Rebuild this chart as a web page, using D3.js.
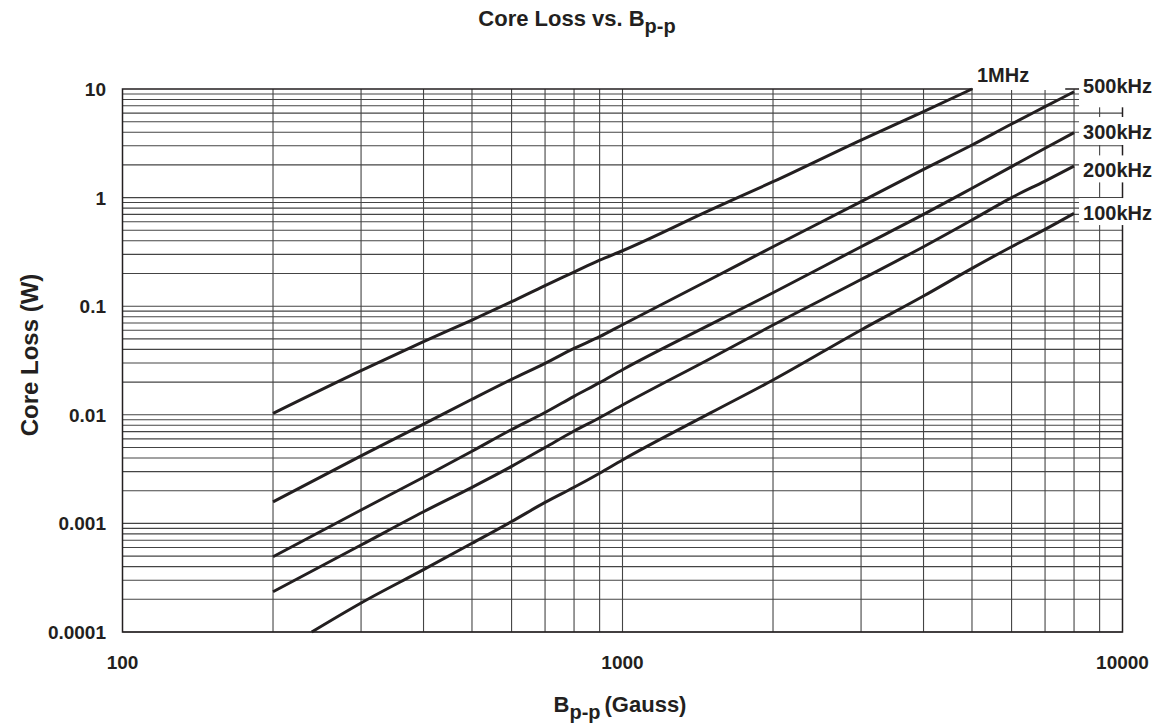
<!DOCTYPE html>
<html>
<head>
<meta charset="utf-8">
<script src="https://cdn.jsdelivr.net/npm/d3@7"></script>
<style>
  body { margin: 0; background: #fff; }
  text { font-family: "Liberation Sans", Arial, sans-serif; font-weight: bold; fill: #231f20; }
</style>
</head>
<body>
<div id="chart"></div>
<script>
// Data (Gauss -> Watts)
const seriesNames = ["1MHz", "500kHz", "300kHz", "200kHz", "100kHz"];

const gauss1M = [200, 300, 400, 500, 600, 700, 800, 900, 1000, 1500, 2000, 3000, 4000, 5000];
const loss1M = [0.0103, 0.0255, 0.0471, 0.0746, 0.110, 0.155, 0.206, 0.265, 0.324, 0.77, 1.40, 3.39, 6.18, 10];

const gaussStd = [200, 300, 400, 500, 600, 700, 800, 900, 1000, 1500, 2000, 3000, 4000, 5000, 6000, 7000, 8000];
const loss500k = [0.00158, 0.00418, 0.0082, 0.0139, 0.0212, 0.0298, 0.0409, 0.0524, 0.0675, 0.177, 0.353, 0.917, 1.82, 3.05, 4.76, 6.87, 9.44];
const loss300k = [0.000493, 0.00133, 0.00266, 0.00462, 0.00732, 0.0105, 0.0148, 0.0198, 0.026, 0.068, 0.133, 0.353, 0.70, 1.22, 1.93, 2.85, 3.96];
const loss200k = [0.000235, 0.000632, 0.00128, 0.00215, 0.00335, 0.0050, 0.0071, 0.0094, 0.0123, 0.033, 0.0671, 0.176, 0.353, 0.622, 1.0, 1.42, 1.95];

const gauss100k = [239, 300, 400, 500, 600, 700, 800, 900, 1000, 1500, 2000, 3000, 4000, 5000, 6000, 7000, 8000];
const loss100k = [0.0001, 0.000185, 0.000375, 0.000656, 0.00104, 0.00156, 0.00215, 0.0029, 0.00384, 0.0104, 0.0209, 0.0604, 0.124, 0.223, 0.353, 0.51, 0.716];

const xTickLabels = [100, 1000, 10000];
const yTickLabels = ["0.0001", "0.001", "0.01", "0.1", "1", "10"];

const width = 1158;
const height = 725;
const margin = {top: 89, right: 35.5, bottom: 93, left: 122.5};

const svg = d3.select("#chart")
    .append("svg")
    .attr("width", width)
    .attr("height", height);

const x = d3.scaleLog()
    .domain([100, 10000])
    .range([margin.left, width - margin.right]);

const y = d3.scaleLog()
    .domain([0.0001, 10])
    .range([height - margin.bottom, margin.top]);

// Grid lines: every 1..9 step of each decade
const xGrid = [];
[100, 1000].forEach(dec => { for (let k = 2; k <= 9; k++) xGrid.push(dec * k); });
xGrid.push(1000);
const yGrid = [];
[0.0001, 0.001, 0.01, 0.1, 1].forEach(dec => { for (let k = 1; k <= 9; k++) yGrid.push(dec * k); });

const grid = svg.append("g");
grid.selectAll(".hgrid")
    .data(yGrid)
    .enter().append("line")
    .attr("x1", x(100)).attr("x2", x(10000))
    .attr("y1", d => y(d)).attr("y2", d => y(d))
    .attr("stroke", "#444")
    .attr("stroke-width", 1.1);

grid.selectAll(".vgrid")
    .data(xGrid)
    .enter().append("line")
    .attr("x1", d => x(d)).attr("x2", d => x(d))
    .attr("y1", y(0.0001)).attr("y2", y(10))
    .attr("stroke", "#444")
    .attr("stroke-width", 1.1);

// Frame
svg.append("rect")
    .attr("x", x(100))
    .attr("y", y(10))
    .attr("width", x(10000) - x(100))
    .attr("height", y(0.0001) - y(10))
    .attr("fill", "none")
    .attr("stroke", "#231f20")
    .attr("stroke-width", 1.5);

// Curves
const series = [
    {name: seriesNames[0], xs: gauss1M, ys: loss1M},
    {name: seriesNames[1], xs: gaussStd, ys: loss500k},
    {name: seriesNames[2], xs: gaussStd, ys: loss300k},
    {name: seriesNames[3], xs: gaussStd, ys: loss200k},
    {name: seriesNames[4], xs: gauss100k, ys: loss100k}
];

const line = d3.line()
    .x(d => x(d[0]))
    .y(d => y(d[1]))
    .curve(d3.curveMonotoneX);

svg.selectAll(".curve")
    .data(series)
    .enter().append("path")
    .attr("class", "curve")
    .attr("d", s => line(s.xs.map((g, i) => [g, s.ys[i]])))
    .attr("fill", "none")
    .attr("stroke", "#231f20")
    .attr("stroke-width", 3);

// Series labels with white backing
const labelLayout = [
    {dx: 5, dy: -7, padR: 36, padB: 8},
    {dx: 9, dy: 1.6, padR: 12, padB: 14},
    {dx: 9, dy: 6.3, padR: 12, padB: 6},
    {dx: 9, dy: 11.3, padR: 12, padB: 5},
    {dx: 9, dy: 6.7, padR: 12, padB: 5}
];

series.forEach((s, i) => {
    const n = s.xs.length - 1;
    const lay = labelLayout[i];
    const g = svg.append("g");
    const t = g.append("text")
        .attr("x", x(s.xs[n]) + lay.dx)
        .attr("y", y(s.ys[n]) + lay.dy)
        .style("font-size", "20px")
        .text(s.name);
    const bb = t.node().getBBox();
    g.insert("rect", "text")
        .attr("x", bb.x - 4)
        .attr("y", bb.y - 4)
        .attr("width", bb.width + 4 + lay.padR)
        .attr("height", bb.height + lay.padB)
        .attr("fill", "#fff");
});

// Y tick labels
svg.selectAll(".ylab")
    .data(yTickLabels)
    .enter().append("text")
    .attr("x", 106)
    .attr("y", d => y(+d) + 7)
    .attr("text-anchor", "end")
    .style("font-size", "19px")
    .text(d => d);

// X tick labels
svg.selectAll(".xlab")
    .data(xTickLabels)
    .enter().append("text")
    .attr("x", d => x(d))
    .attr("y", 669)
    .attr("text-anchor", "middle")
    .style("font-size", "19px")
    .text(d => d);

// Title
const title = svg.append("text")
    .attr("x", 577)
    .attr("y", 26)
    .attr("text-anchor", "middle")
    .style("font-size", "22px");
title.append("tspan").text("Core Loss vs. B");
title.append("tspan").attr("dy", 7).style("font-size", "20px").text("p-p");

// X axis title
const xTitle = svg.append("text")
    .attr("x", 620)
    .attr("y", 712)
    .attr("text-anchor", "middle")
    .style("font-size", "22px");
xTitle.append("tspan").text("B");
xTitle.append("tspan").attr("dy", 7).style("font-size", "20px").text("p-p");
xTitle.append("tspan").attr("dy", -7).attr("dx", 4).text("(Gauss)");

// Y axis title
svg.append("text")
    .attr("transform", "translate(38,355) rotate(-90)")
    .attr("text-anchor", "middle")
    .style("font-size", "24px")
    .text("Core Loss (W)");
</script>
</body>
</html>
